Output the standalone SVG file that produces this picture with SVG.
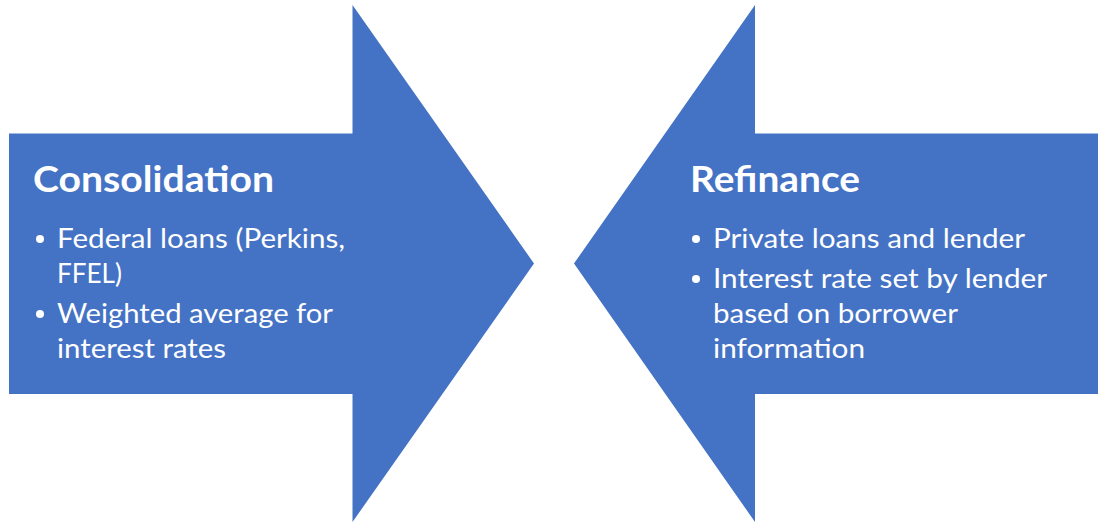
<svg xmlns="http://www.w3.org/2000/svg" width="1100" height="525" viewBox="0 0 1100 525">
  <style>
    .arrow { fill: #4472C4; }
    .title { font-family: Lato, "Open Sans", "Liberation Sans", sans-serif; font-weight: bold; font-size: 37px; fill: #FFFFFF; }
    .item { font-family: Lato, "Open Sans", "Liberation Sans", sans-serif; font-size: 27px; fill: #FFFFFF; }
    .dot { fill: #FFFFFF; }
  </style>
  <rect width="1100" height="525" fill="#FFFFFF"/>

  <!-- left block arrow pointing right -->
  <g id="consolidation">
    <polygon class="arrow" points="9,133.5 352.5,133.5 352.5,5 534,263.5 352.5,522 352.5,394 9,394"/>
    <text class="title" x="33" y="192" textLength="241" lengthAdjust="spacingAndGlyphs">Consolidation</text>
    <circle class="dot" cx="40" cy="239" r="4"/>
    <text class="item" x="57" y="248" textLength="288" lengthAdjust="spacingAndGlyphs">Federal loans (Perkins,</text>
    <text class="item" x="57" y="283" textLength="65" lengthAdjust="spacingAndGlyphs">FFEL)</text>
    <circle class="dot" cx="40" cy="314" r="4"/>
    <text class="item" x="57" y="323" textLength="276" lengthAdjust="spacingAndGlyphs">Weighted average for</text>
    <text class="item" x="57" y="358" textLength="169" lengthAdjust="spacingAndGlyphs">interest rates</text>
  </g>

  <!-- right block arrow pointing left -->
  <g id="refinance">
    <polygon class="arrow" points="1098,133.5 755,133.5 755,5 574,263.5 755,522 755,394 1098,394"/>
    <text class="title" x="690" y="192" textLength="170" lengthAdjust="spacingAndGlyphs">Refinance</text>
    <circle class="dot" cx="696" cy="239" r="4"/>
    <text class="item" x="713" y="248" textLength="312" lengthAdjust="spacingAndGlyphs">Private loans and lender</text>
    <circle class="dot" cx="696" cy="279" r="4"/>
    <text class="item" x="713" y="288" textLength="334" lengthAdjust="spacingAndGlyphs">Interest rate set by lender</text>
    <text class="item" x="713" y="323" textLength="245" lengthAdjust="spacingAndGlyphs">based on borrower</text>
    <text class="item" x="713" y="358" textLength="152" lengthAdjust="spacingAndGlyphs">information</text>
  </g>

  <g id="connectors"></g>
</svg>
